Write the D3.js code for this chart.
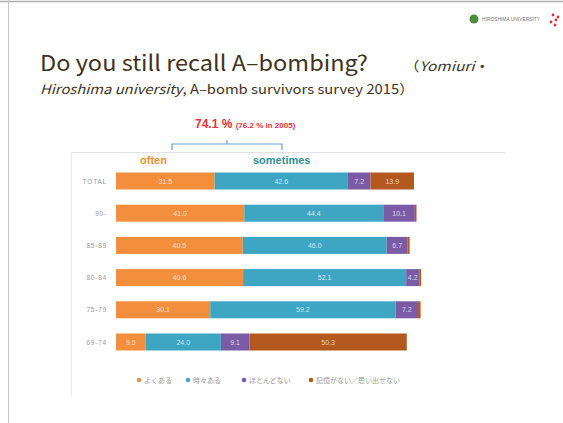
<html>
<head>
<meta charset="utf-8">
<style>
  body { margin: 0; background: #fff; }
  svg { display: block; }
</style>
</head>
<body>
<svg id="chart"></svg>
<script src="https://d3js.org/d3.v7.min.js"></script>
<script>
// age groups (rows, top to bottom)
var ages = ["TOTAL", "90-", "85-89", "80-84", "75-79", "69-74"]
// answer categories (legend, Japanese as on the slide)
var answers = ["よくある", "時々ある", "ほとんどない", "記憶がない／思い出せない"]
// % per answer, one array per answer, in row order
var often     = [31.5, 41.0, 40.5, 40.6, 30.1, 9.5]
var sometimes = [42.6, 44.4, 46.0, 52.1, 59.2, 24.0]
var rarely    = [7.2, 10.1, 6.7, 4.2, 7.2, 9.1]
var noMemory  = [13.9, 0.5, 0.6, 0.6, 0.8, 50.3]
var colors = ["#f28e3c", "#3ea6c2", "#7b5ba6", "#b3581e"]

var screen = {width: 563, height: 423}
var svg = d3.select("#chart").attr("width", screen.width).attr("height", screen.height)

// slide frame
svg.append("line").attr("x1", 0).attr("x2", screen.width).attr("y1", 1.5).attr("y2", 1.5)
   .attr("stroke", "#b0b0b0").attr("stroke-width", 1.5)
svg.append("line").attr("x1", 8.5).attr("x2", 8.5).attr("y1", 0).attr("y2", screen.height)
   .attr("stroke", "#c8c8c8").attr("stroke-width", 1)

// logo
var logo = svg.append("g")
logo.append("circle").attr("cx", 474).attr("cy", 19).attr("r", 4.5).attr("fill", "#4e8b3a")
logo.append("text").attr("x", 482).attr("y", 21).text("HIROSHIMA UNIVERSITY")
    .attr("font-family", "Liberation Sans").attr("font-size", 5).attr("fill", "#777")
    .attr("textLength", 58).attr("lengthAdjust", "spacingAndGlyphs")
logo.selectAll("circle.r").data([[553, 15], [556, 20], [551, 22], [555, 25], [558, 17]]).enter()
    .append("circle").attr("cx", function(d){return d[0]}).attr("cy", function(d){return d[1]})
    .attr("r", 1.4).attr("fill", "#d0343c")

// title
svg.append("text").attr("x", 40).attr("y", 71)
   .attr("font-family", "Noto Sans CJK JP").attr("font-size", 21.5).attr("fill", "#3e3322")
   .attr("textLength", 328).attr("lengthAdjust", "spacingAndGlyphs")
   .text("Do you still recall A–bombing?")
svg.append("text").attr("x", 404).attr("y", 71)
   .attr("font-family", "Noto Sans CJK JP").attr("font-size", 13).attr("fill", "#3e3322")
   .attr("textLength", 86).attr("lengthAdjust", "spacingAndGlyphs")
   .html("（<tspan font-style='italic'>Yomiuri</tspan>・")
svg.append("text").attr("x", 40).attr("y", 94)
   .attr("font-family", "Noto Sans CJK JP").attr("font-size", 13).attr("fill", "#3e3322")
   .attr("textLength", 374).attr("lengthAdjust", "spacingAndGlyphs")
   .html("<tspan font-style='italic'>Hiroshima university</tspan>, A–bomb survivors survey 2015）")

// chart frame (top and left edges of the pasted chart)
svg.append("line").attr("x1", 71.5).attr("x2", 505).attr("y1", 152.5).attr("y2", 152.5)
   .attr("stroke", "#e2e2e2")
svg.append("line").attr("x1", 71.5).attr("x2", 71.5).attr("y1", 152.5).attr("y2", 396)
   .attr("stroke", "#e8e8e8")

var xScale = d3.scaleLinear().domain([0, 100]).range([116, 429])
var yScale = d3.scalePoint().domain(ages).range([181, 342])
var barH = 17

var series = [often, sometimes, rarely, noMemory]
var rows = ages.map(function(age, i){
    var x0 = 0
    return series.map(function(s, k){
        var seg = {age: age, k: k, v: s[i], x0: x0}
        x0 += s[i]
        return seg
    })
})

var bars = svg.append("g").selectAll("g").data(rows).enter().append("g")
bars.selectAll("rect").data(function(d){return d}).enter().append("rect")
    .attr("x", function(d){return xScale(d.x0)})
    .attr("y", function(d){return yScale(d.age) - barH/2})
    .attr("width", function(d){return xScale(d.x0 + d.v) - xScale(d.x0)})
    .attr("height", barH)
    .attr("fill", function(d){return colors[d.k]})
bars.selectAll("text").data(function(d){return d.filter(function(s){return s.v >= 2})}).enter().append("text")
    .attr("x", function(d){return xScale(d.x0 + d.v/2)})
    .attr("y", function(d){return yScale(d.age) + 2.5})
    .attr("text-anchor", "middle")
    .attr("font-family", "Liberation Sans").attr("font-size", 7)
    .attr("fill", "#fff").attr("fill-opacity", 0.75)
    .text(function(d){return d.v.toFixed(1)})

// row labels
svg.append("g").selectAll("text").data(ages).enter().append("text")
   .attr("x", 107).attr("y", function(d){return yScale(d) + 2.5})
   .attr("text-anchor", "end").attr("font-family", "Liberation Sans").attr("font-size", 6.5)
   .attr("letter-spacing", 0.8).attr("fill", "#999")
   .text(function(d){return d})

// legend
var legendX = [139, 188, 244, 311]
var legend = svg.append("g").selectAll("g").data(answers).enter().append("g")
    .attr("transform", function(d, i){return "translate(" + legendX[i] + ",380)"})
legend.append("circle").attr("r", 2.3).attr("fill", function(d, i){return colors[i]})
legend.append("text").attr("x", 5).attr("y", 2.5)
    .attr("font-family", "Noto Sans CJK JP").attr("font-size", 7).attr("fill", "#999")
    .text(function(d){return d})

// annotation
svg.append("text").attr("x", 195).attr("y", 128)
   .attr("font-family", "Liberation Sans").attr("font-weight", "bold").attr("fill", "#e8303a")
   .attr("font-size", 12).html("74.1 % <tspan font-size='8'>(76.2 % in 2005)</tspan>")
var brace = d3.path()
brace.moveTo(172, 150)
brace.lineTo(172, 144)
brace.lineTo(282, 144)
brace.lineTo(282, 150)
brace.moveTo(227, 144)
brace.lineTo(227, 140)
svg.append("path").attr("d", brace.toString()).attr("fill", "none")
   .attr("stroke", "#6a9fd4").attr("stroke-width", 1.2)
svg.append("text").attr("x", 140).attr("y", 164)
   .attr("font-family", "Liberation Sans").attr("font-weight", "bold").attr("font-size", 11)
   .attr("fill", "#f0902a").text("often")
svg.append("text").attr("x", 253).attr("y", 164)
   .attr("font-family", "Liberation Sans").attr("font-weight", "bold").attr("font-size", 11)
   .attr("fill", "#2e8f99").text("sometimes")
</script>
</body>
</html>
